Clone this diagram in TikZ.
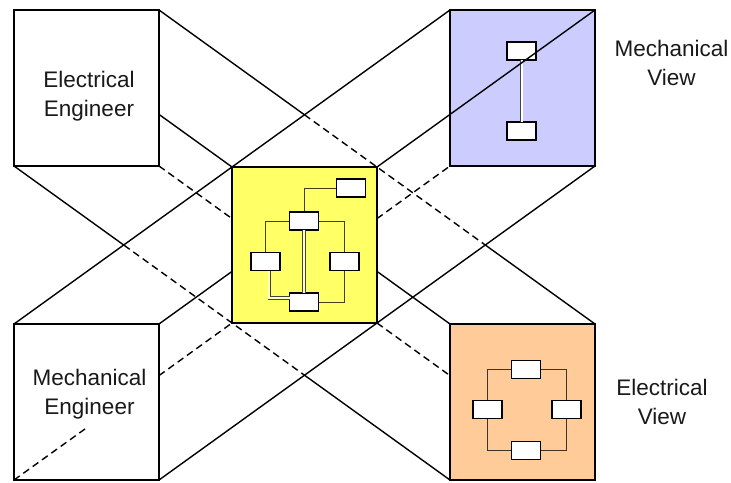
\documentclass[tikz,border=0pt]{standalone}
\usepackage{fontspec}
\setmainfont{Liberation Sans}
\usetikzlibrary{calc}
\definecolor{mechblue}{HTML}{CCCCFF}
\definecolor{elecorange}{HTML}{FFCC99}
\definecolor{hubyellow}{HTML}{FFFF66}
\begin{document}
\begin{tikzpicture}[x=1pt,y=-1pt,
  face/.style={draw=black,line width=1.6pt,minimum width=145pt,minimum height=156pt,anchor=north west,inner sep=0pt,outer sep=0pt},
  conn/.style={draw=black,line width=1.4pt},
  hid/.style={conn,dash pattern=on 7pt off 4.5pt},
  part/.style={draw=black,line width=1.5pt,fill=white,minimum width=29pt,minimum height=18pt,inner sep=0pt,outer sep=0pt},
  wire/.style={draw=black,draw opacity=0.75,line width=0.9pt},
  dwire/.style={draw=black!75,line width=0.8pt,double distance=1.8pt},
  txt/.style={font=\fontsize{22.5}{29}\selectfont,align=center,text=black!90,inner sep=2pt}
]
\useasboundingbox (0,0) rectangle (731,482);

% faces
\node[face,fill=white] (EE) at (14,10) {};
\node[face,fill=white] (ME) at (14,324) {};
\node[face,fill=mechblue] (MV) at (450,10) {};
\node[face,fill=elecorange] (EV) at (450,324) {};
\node[face,fill=hubyellow] (HUB) at (232,167) {};

% hub diagram
\node[part] (yTR) at (351,188) {};
\node[part] (yTop) at (304,221) {};
\node[part] (yL) at (265.3,261.5) {};
\node[part] (yR) at (344.5,261.5) {};
\node[part] (yBot) at (304,302) {};
\draw[wire] (yTR.west) -| (yTop.north);
\draw[wire] (yTop.west) -| (yL.north);
\draw[wire] (yTop.east) -| (yR.north);
\draw[wire] (yR.south) |- (yBot.east);
\draw[dwire,double=hubyellow!40!white] (yTop.south) -- (yBot.north);
\draw[dwire,double=hubyellow!40!white] ([xshift=4pt]yL.south) |- ([yshift=4pt]yBot.west);

% mechanical view diagram
\node[part] (mTop) at (521.7,50.8) {};
\node[part] (mBot) at (521.7,130.8) {};
\draw[dwire,double=white] (mTop.south) -- (mBot.north);

% electrical view diagram
\node[part] (eTop) at (526,369.5) {};
\node[part] (eL) at (487.7,409.7) {};
\node[part] (eR) at (566.7,409.7) {};
\node[part] (eBot) at (526,450.3) {};
\draw[wire] (eTop.west) -| (eL.north);
\draw[wire] (eTop.east) -| (eR.north);
\draw[wire] (eL.south) |- (eBot.west);
\draw[wire] (eR.south) |- (eBot.east);

% texts
\node[txt] (EEt) at (89,96) {Electrical\\Engineer};
\node[txt] (MEt) at (89.5,394.5) {Mechanical\\Engineer};
\node[txt] (MVt) at (671.5,63) {Mechanical\\View};
\node[txt] (EVt) at (662,402) {Electrical\\View};

% crossing and exit points
\coordinate (x1) at (304.5,114.8);
\coordinate (x2) at (485,244.8);
\coordinate (x3) at (124,245.2);
\coordinate (x4) at (304.5,375.2);
\coordinate (e1) at (159,114.4);
\coordinate (e2) at (377,271.4);
\coordinate (e3) at (232,218.6);
\coordinate (e4) at (450,375.6);
\coordinate (e5) at (232,271.4);
\coordinate (e7) at (159,375.6);
\coordinate (e8) at (377,218.6);
\coordinate (h1) at (88,426.8);

% solid edges
\draw[conn] (e1) -- (HUB.north west);
\draw[conn] (e2) -- (EV.north west);
\draw[conn] (EE.north east) -- (x1);
\draw[conn] (x2) -- (EV.north east);
\draw[conn] (EE.south west) -- (x3);
\draw[conn] (x4) -- (EV.south west);
\draw[conn] (ME.north west) -- (MV.north west);
\draw[conn] (ME.north east) -- (e5);
\draw[conn] (HUB.north east) -- (MV.north east);
\draw[conn] (ME.south east) -- (MV.south east);

% dashed edges
\draw[hid] (ME.south west) -- (h1);
\draw[hid] (e7) -- (HUB.south west);
\draw[hid] (x1) -- (x2);
\draw[hid] (x3) -- (x4);
\draw[hid] (EE.south east) -- (e3);
\draw[hid] (HUB.south east) -- (e4);
\draw[hid] (e8) -- (MV.south west);
\end{tikzpicture}
\end{document}
